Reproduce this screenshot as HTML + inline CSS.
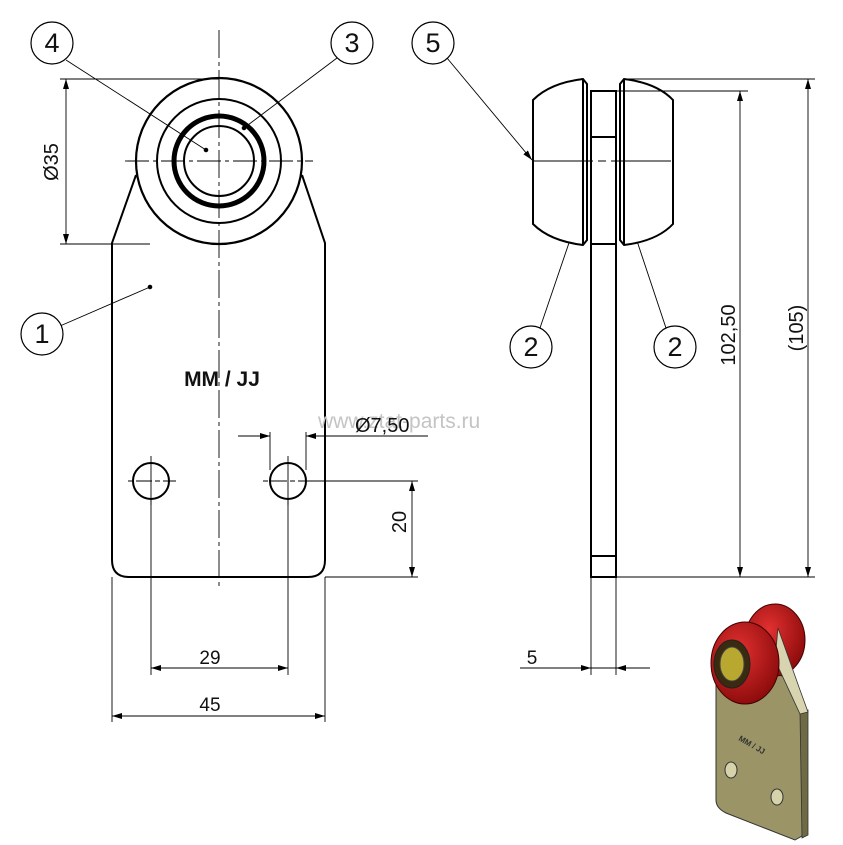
<!DOCTYPE html>
<html><head><meta charset="utf-8"><style>
html,body{margin:0;padding:0;background:#fff;}
svg{display:block;}
text{font-family:"Liberation Sans","DejaVu Sans",sans-serif;fill:#111;}
</style></head><body>
<svg width="843" height="845" viewBox="0 0 843 845" xmlns="http://www.w3.org/2000/svg">
<defs>
<marker id="ar" viewBox="0 0 10 6" refX="10" refY="3" markerWidth="10" markerHeight="6" orient="auto-start-reverse" markerUnits="userSpaceOnUse"><path d="M0,0 L10,3 L0,6 z" fill="#000"/></marker>
<radialGradient id="rg" cx="0.4" cy="0.35" r="0.7"><stop offset="0" stop-color="#e23030"/><stop offset="1" stop-color="#8a0a0a"/></radialGradient>
</defs>
<g stroke="#000" fill="none">
<path d="M136,175 L112,243 L112,560 Q112,577 129,577 L308,577 Q325,577 325,560 L325,243 L302,175" stroke-width="2"/>
<circle cx="219" cy="161" r="83" stroke-width="2.2" fill="#fff"/>
<circle cx="219" cy="161" r="62" stroke-width="2"/>
<circle cx="219" cy="161" r="45" stroke-width="5"/>
<circle cx="219" cy="161" r="35" stroke-width="2"/>
<line x1="219" y1="30" x2="219" y2="590" stroke-width="0.9" stroke-dasharray="28,4,4,4"/>
<line x1="125" y1="161" x2="313" y2="161" stroke-width="0.9" stroke-dasharray="24,4,4,4"/>
<circle cx="151" cy="481" r="18" stroke-width="2"/>
<circle cx="288" cy="481" r="18" stroke-width="2"/>
<g stroke-width="0.9">
<line x1="128" y1="481" x2="176" y2="481" stroke-dasharray="5,3,16,3"/>
<line x1="151" y1="456" x2="151" y2="505"/>
<line x1="263" y1="481" x2="313" y2="481" stroke-dasharray="5,3,16,3"/>
<line x1="288" y1="456" x2="288" y2="505"/>
<line x1="60" y1="79" x2="219" y2="79"/>
<line x1="60" y1="244" x2="150" y2="244"/>
<line x1="66" y1="79" x2="66" y2="244" marker-start="url(#ar)" marker-end="url(#ar)"/>
<line x1="270" y1="432" x2="270" y2="470"/>
<line x1="306" y1="432" x2="306" y2="470"/>
<line x1="238" y1="436" x2="270" y2="436" marker-end="url(#ar)"/>
<line x1="338" y1="436" x2="306" y2="436" marker-end="url(#ar)"/>
<line x1="338" y1="436" x2="428" y2="436"/>
<line x1="306" y1="481" x2="418" y2="481"/>
<line x1="325" y1="577" x2="418" y2="577"/>
<line x1="412" y1="481" x2="412" y2="577" marker-start="url(#ar)" marker-end="url(#ar)"/>
<line x1="151" y1="500" x2="151" y2="675"/>
<line x1="288" y1="500" x2="288" y2="675"/>
<line x1="151" y1="668" x2="288" y2="668" marker-start="url(#ar)" marker-end="url(#ar)"/>
<line x1="112" y1="577" x2="112" y2="722"/>
<line x1="325" y1="577" x2="325" y2="722"/>
<line x1="112" y1="716" x2="325" y2="716" marker-start="url(#ar)" marker-end="url(#ar)"/>
<line x1="66" y1="60" x2="206" y2="150"/>
<line x1="337" y1="58" x2="244" y2="128"/>
<line x1="447" y1="58" x2="532" y2="160" marker-end="url(#ar)"/>
<line x1="60" y1="326" x2="150" y2="287"/>
<line x1="540" y1="328" x2="587" y2="190"/>
<line x1="666" y1="328" x2="620" y2="190"/>
</g>
<circle cx="206" cy="150" r="1.8" fill="#000"/>
<circle cx="244" cy="128" r="1.8" fill="#000"/>
<circle cx="150" cy="287" r="1.8" fill="#000"/>
<g stroke-width="1.2" fill="#fff">
<circle cx="52" cy="43" r="21"/><circle cx="352" cy="43" r="21"/><circle cx="433" cy="43" r="21"/>
<circle cx="42" cy="334" r="21"/><circle cx="531" cy="347" r="21"/><circle cx="675" cy="347" r="21"/>
</g>
<rect x="591" y="91" width="25" height="486" stroke-width="2"/>
<line x1="591" y1="137" x2="616" y2="137" stroke-width="2"/>
<line x1="591" y1="244" x2="616" y2="244" stroke-width="2"/>
<line x1="591" y1="556" x2="616" y2="556" stroke-width="2"/>
<path d="M583,79 Q550,83 533,100 L533,224 Q550,241 583,245 L587,240 L587,84 Z" stroke-width="2" fill="#fff"/>
<line x1="583" y1="79" x2="583" y2="245" stroke-width="2"/>
<path d="M624,79 Q657,83 673,100 L673,224 Q657,241 624,245 L620,240 L620,84 Z" stroke-width="2" fill="#fff"/>
<line x1="624" y1="79" x2="624" y2="245" stroke-width="2"/>
<g stroke-width="0.9">
<line x1="533" y1="161" x2="676" y2="161" stroke-dasharray="60,5,8,5"/>
<line x1="624" y1="79" x2="815" y2="79"/>
<line x1="616" y1="91" x2="748" y2="91"/>
<line x1="616" y1="577" x2="815" y2="577"/>
<line x1="740" y1="91" x2="740" y2="577" marker-start="url(#ar)" marker-end="url(#ar)"/>
<line x1="808" y1="79" x2="808" y2="577" marker-start="url(#ar)" marker-end="url(#ar)"/>
<line x1="591" y1="577" x2="591" y2="675"/>
<line x1="616" y1="577" x2="616" y2="675"/>
<line x1="520" y1="668" x2="591" y2="668" marker-end="url(#ar)"/>
<line x1="650" y1="668" x2="616" y2="668" marker-end="url(#ar)"/>
<line x1="591" y1="668" x2="616" y2="668"/>
</g>
</g>
<g font-size="27" text-anchor="middle">
<text x="52" y="52">4</text><text x="352" y="52">3</text><text x="433" y="52">5</text>
<text x="42" y="343">1</text><text x="531" y="356">2</text><text x="675" y="356">2</text>
</g>
<text x="222" y="386" font-size="21" font-weight="bold" text-anchor="middle">MM / JJ</text>
<text x="318" y="428" font-size="21" style="fill:#c4c4c4">www.ztat-parts.ru</text>
<text x="355" y="432" font-size="20">Ø7,50</text>
<text transform="translate(58,162) rotate(-90)" font-size="20" text-anchor="middle">Ø35</text>
<text transform="translate(406,522) rotate(-90)" font-size="20" text-anchor="middle">20</text>
<text x="210" y="664" font-size="19" text-anchor="middle">29</text>
<text x="210" y="711" font-size="19" text-anchor="middle">45</text>
<text x="532" y="664" font-size="19" text-anchor="middle">5</text>
<text transform="translate(735,335) rotate(-90)" font-size="20" text-anchor="middle">102,50</text>
<text transform="translate(803,328) rotate(-90)" font-size="20" text-anchor="middle">(105)</text>
<g>
<path d="M716,670 L716,800 Q716,808 726,813 L795,840 L802,836 L802,712 L790,680 L770,670 Z" fill="#9a9466" stroke="#333" stroke-width="1"/>
<path d="M800,712 L808,710 L808,835 L802,838 Z" fill="#6e6a44" stroke="#333" stroke-width="0.8"/>
<ellipse cx="775" cy="640" rx="30" ry="36" fill="url(#rg)" stroke="#400" stroke-width="1"/>
<path d="M778,628 L800,690 L808,712 L800,714 L775,660 Z" fill="#d8d4b0" stroke="#333" stroke-width="0.8"/>
<ellipse cx="745" cy="663" rx="34" ry="41" fill="url(#rg)" stroke="#400" stroke-width="1"/>
<ellipse cx="732" cy="664" rx="18" ry="24" fill="#3a2a10" stroke="#222"/>
<ellipse cx="732" cy="664" rx="12" ry="17" fill="#b8a830" stroke="#444"/>
<ellipse cx="731" cy="770" rx="6" ry="8" fill="#d6d2aa" stroke="#333"/>
<ellipse cx="777" cy="797" rx="6" ry="8" fill="#d6d2aa" stroke="#333"/>
<text transform="translate(738,740) rotate(30)" font-size="8" font-weight="bold" style="fill:#333">MM / JJ</text>
</g>
</svg>
</body></html>
